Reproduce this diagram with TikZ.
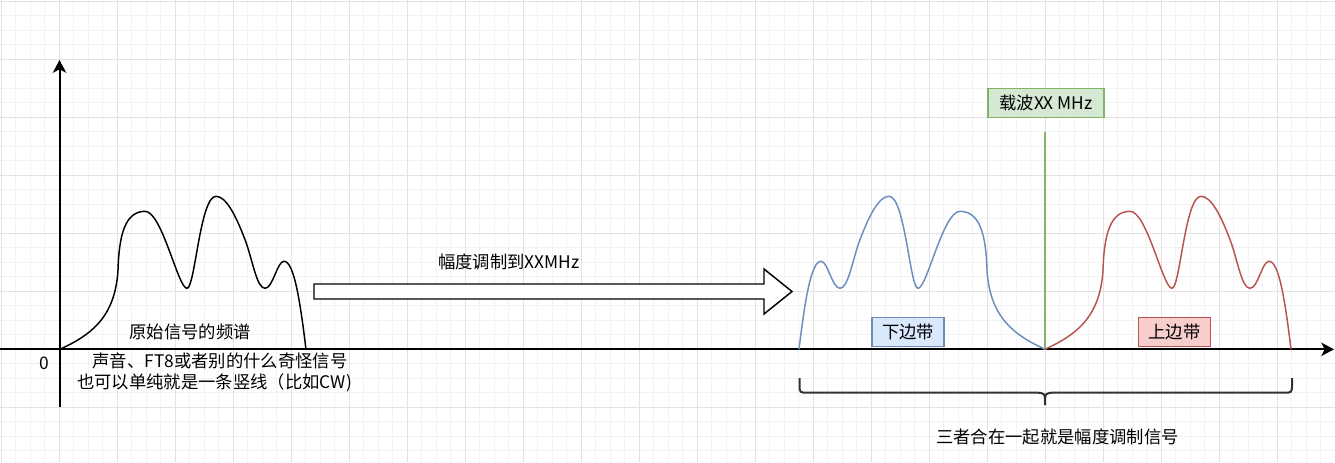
\documentclass[tikz,border=0pt]{standalone}
\usepackage{fontspec}
\setmainfont{Liberation Sans}
\newfontfamily\cjk{Noto Sans CJK SC}
\usetikzlibrary{arrows.meta}
\definecolor{gridminor}{RGB}{242,242,242}
\definecolor{gridmajor}{RGB}{226,226,226}
\definecolor{lsbline}{HTML}{6C8EBF}
\definecolor{lsbfill}{HTML}{DAE8FC}
\definecolor{usbline}{HTML}{B85450}
\definecolor{usbfill}{HTML}{F8CECC}
\definecolor{carline}{HTML}{82B366}
\definecolor{carfill}{HTML}{D5E8D4}
\definecolor{bracecol}{HTML}{333333}
\tikzset{
  lbl/.style={font=\cjk\fontsize{13}{15}\selectfont, inner sep=0pt},
  tagbox/.style={lbl, draw, line width=1.1pt, minimum width=54pt, minimum height=21.75pt, inner sep=0pt},
  axisline/.style={line width=1.5pt, -{Stealth[length=9.5pt, width=10pt, inset=2.5pt]}},
  curveline/.style={line width=1.1pt},
  blockarrow/.style={draw=black, fill=white, line width=1.1pt, line join=miter},
  bracestyle/.style={draw=bracecol, line width=1.5pt},
  spectrum/.pic={
    \draw[pic actions, curveline] (0,0) .. controls (30,-14) and (55,-31) .. (58,-79)
      .. controls (59,-114) and (65,-138) .. (85,-138)
      .. controls (102,-138) and (118,-61) .. (127,-61)
      .. controls (135,-61) and (140,-153) .. (156,-153)
      .. controls (166,-153) and (176,-134) .. (186,-107)
      .. controls (193,-87) and (197,-61) .. (205,-61)
      .. controls (213,-61) and (217,-88) .. (224,-88)
      .. controls (234,-88) and (240,-49) .. (246,0);
  }
}
\begin{document}
\begin{tikzpicture}[x=0.75pt, y=-0.75pt]
\useasboundingbox (0,0) rectangle (1335,462);
\fill[white] (0,0) rectangle (1335,462);
% grid
\foreach \k in {0,...,92} {
  \pgfmathsetmacro\gx{1.3+14.5*\k}
  \draw[gridminor, line width=0.75pt] (\gx,0) -- (\gx,462);
}
\foreach \k in {0,...,31} {
  \pgfmathsetmacro\gy{1.3+14.5*\k}
  \draw[gridminor, line width=0.75pt] (0,\gy) -- (1335,\gy);
}
\foreach \k in {0,4,...,92} {
  \pgfmathsetmacro\gx{1.3+14.5*\k}
  \draw[gridmajor, line width=0.75pt] (\gx,0) -- (\gx,462);
}
\foreach \k in {0,4,...,31} {
  \pgfmathsetmacro\gy{1.3+14.5*\k}
  \draw[gridmajor, line width=0.75pt] (0,\gy) -- (1335,\gy);
}

% axes
\coordinate (ybot) at (59.5,407);
\coordinate (ytop) at (59.5,60);
\coordinate (xleft) at (0,349.3);
\coordinate (xright) at (1334,349.3);
\draw[axisline] (ybot) -- (ytop);
\draw[axisline] (xleft) -- (xright);
\node[lbl] (zero) at (44.5,363) {0};

% carrier line
\coordinate (cartop) at (1045,132);
\coordinate (carbot) at (1045,349.3);
\draw[carline, line width=1.1pt] (cartop) -- (carbot);

% spectra
\pic[draw=black] (orig) at (60,349.3) {spectrum};
\pic[draw=lsbline, xscale=-1] (lsb) at (1045,349.3) {spectrum};
\pic[draw=usbline] (usb) at (1045,349.3) {spectrum};

% block arrow
\draw[blockarrow] (314,284) -- (764,284) -- (764,269) -- (792,291.5) -- (764,314) -- (764,299) -- (314,299) -- cycle;
\node[lbl] (modlbl) at (509,262) {幅度调制到XXMHz};

% labels left
\node[lbl] (origlbl) at (190,331.5) {原始信号的频谱};
\node[lbl] (desc1) at (220,361) {声音、FT8或者别的什么奇怪信号};
\node[lbl] (desc2) at (214.5,382.5) {也可以单纯就是一条竖线（比如CW)};

% boxes
\node[tagbox, draw=carline, fill=carfill, minimum width=87pt] (carrier) at (1046,102.8) {载波XX MHz};
\node[tagbox, draw=lsbline, fill=lsbfill] (lsbbox) at (908,332) {下边带};
\node[tagbox, draw=usbline, fill=usbfill] (usbbox) at (1174.5,332) {上边带};

% brace
\coordinate (bl) at (799.5,378);
\coordinate (br) at (1292,378);
\coordinate (bm) at (1045,405);
\draw[bracestyle] (bl) -- (799.5,384) .. controls (799.5,392.7) .. (808,392.7) -- (1035,392.7) .. controls (1045,392.7) .. (bm);
\draw[bracestyle] (bm) .. controls (1045,392.7) .. (1055,392.7) -- (1283.5,392.7) .. controls (1292,392.7) .. (1292,384) -- (br);
\node[lbl] (sumlbl) at (1057.5,436.5) {三者合在一起就是幅度调制信号};
\end{tikzpicture}
\end{document}
